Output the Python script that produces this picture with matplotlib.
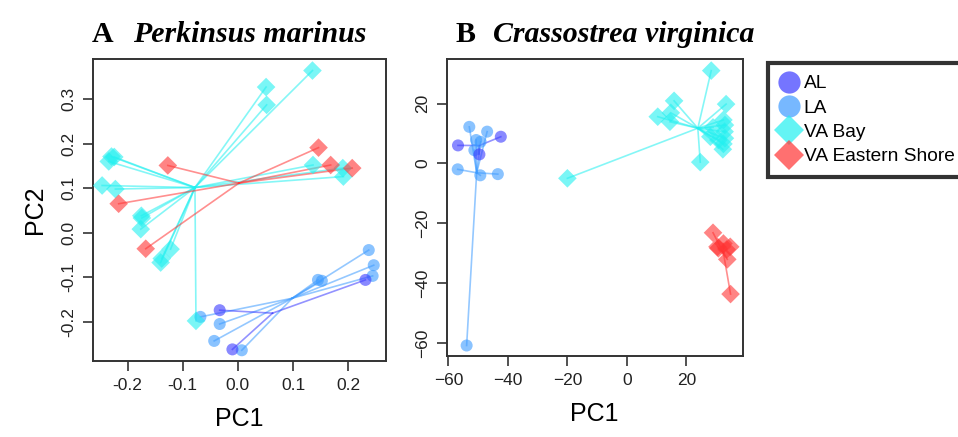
import matplotlib.pyplot as plt
from matplotlib.lines import Line2D
import numpy as np

# ---- data (PCA scores per group) ----
groups = ["AL", "LA", "VA Bay", "VA Eastern Shore"]

# Panel A: Perkinsus marinus
a_al_x = [-0.033, 0.231, -0.010]
a_al_y = [-0.174, -0.106, -0.262]
a_la_x = [0.237, 0.246, 0.244, 0.145, 0.152, -0.068, -0.033, -0.043, 0.007]
a_la_y = [-0.039, -0.073, -0.097, -0.106, -0.108, -0.189, -0.205, -0.243, -0.264]
a_vab_x = [0.135, 0.051, 0.052, -0.229, -0.224, -0.234, -0.246, -0.222, -0.175,
           -0.174, -0.176, -0.122, -0.138, -0.140, 0.136, 0.190, 0.191, -0.076]
a_vab_y = [0.364, 0.327, 0.287, 0.171, 0.170, 0.160, 0.106, 0.098, 0.038,
           0.033, 0.008, -0.037, -0.058, -0.067, 0.152, 0.145, 0.126, -0.198]
a_vaes_x = [0.146, -0.127, 0.168, 0.207, -0.216, -0.167]
a_vaes_y = [0.191, 0.151, 0.152, 0.145, 0.065, -0.036]

# Panel B: Crassostrea virginica
b_al_x = [-56.8, -42.4, -49.6]
b_al_y = [6.0, 8.9, 3.0]
b_la_x = [-53.0, -47.0, -50.7, -49.2, -51.3, -56.9, -49.3, -43.4, -53.9]
b_la_y = [12.2, 10.6, 7.8, 7.2, 4.4, -2.0, -4.0, -3.6, -60.9]
b_vab_x = [28.4, 15.9, 33.4, 14.8, 10.4, 14.5, 32.5, 33.0, 29.0, 32.9, 28.1,
           33.0, 30.8, 32.5, 32.3, 24.7, -20.0]
b_vab_y = [31.0, 20.9, 19.8, 16.9, 15.6, 13.9, 14.5, 12.8, 12.0, 10.6, 8.9,
           8.4, 7.8, 6.5, 4.7, 0.4, -5.0]
b_vaes_x = [29.0, 30.5, 32.5, 34.8, 30.8, 33.6, 33.8, 34.9]
b_vaes_y = [-23.2, -27.9, -26.8, -27.9, -28.4, -28.8, -32.1, -43.7]

colors = {"AL": "#3a3aff", "LA": "#3d9bff", "VA Bay": "#22f0f0",
          "VA Eastern Shore": "#ff3333"}
markers = {"AL": "o", "LA": "o", "VA Bay": "D", "VA Eastern Shore": "D"}

plt.rcParams['font.family'] = ['Liberation Sans', 'DejaVu Sans']

fig = plt.figure(figsize=(9.58, 4.37), dpi=100)
axA = fig.add_axes([0.0968, 0.174, 0.306, 0.691])
axB = fig.add_axes([0.4663, 0.1854, 0.309, 0.679])


def spider(ax, xs, ys, name):
    # lines from the group centroid to every sample, then the samples
    xs = np.asarray(xs)
    ys = np.asarray(ys)
    cx, cy = xs.mean(), ys.mean()
    for x, y in zip(xs, ys):
        ax.plot([cx, x], [cy, y], color=colors[name], alpha=0.55, lw=1.2,
                zorder=2)
    ax.scatter(xs, ys, s=75 if markers[name] == "o" else 90,
               marker=markers[name], color=colors[name], alpha=0.6,
               edgecolors="none", zorder=3)


def style(ax):
    for sp in ax.spines.values():
        sp.set_linewidth(1.4)
        sp.set_color("#333333")
    ax.tick_params(direction="out", length=7, width=1.2, labelsize=12.5,
                   color="#333333", labelcolor="#222222", pad=5)
    for lab in ax.get_yticklabels():
        lab.set_rotation(90)
        lab.set_va("center")
    ax.set_xlabel("PC1", fontsize=18, labelpad=10)


spider(axA, a_la_x, a_la_y, "LA")
spider(axA, a_al_x, a_al_y, "AL")
spider(axA, a_vab_x, a_vab_y, "VA Bay")
spider(axA, a_vaes_x, a_vaes_y, "VA Eastern Shore")
axA.set_xlim(-0.263, 0.268)
axA.set_ylim(-0.288, 0.39)
axA.set_xticks([-0.2, -0.1, 0.0, 0.1, 0.2])
axA.set_xticklabels(["-0.2", "-0.1", "0.0", "0.1", "0.2"])
axA.set_yticks([-0.2, -0.1, 0.0, 0.1, 0.2, 0.3])
axA.set_yticklabels(["-0.2", "-0.1", "0.0", "0.1", "0.2", "0.3"])
style(axA)
axA.set_ylabel("PC2", fontsize=18, labelpad=10)

spider(axB, b_la_x, b_la_y, "LA")
spider(axB, b_al_x, b_al_y, "AL")
spider(axB, b_vab_x, b_vab_y, "VA Bay")
spider(axB, b_vaes_x, b_vaes_y, "VA Eastern Shore")
axB.set_xlim(-60.6, 39.0)
axB.set_ylim(-64.4, 34.8)
axB.set_xticks([-60, -40, -20, 0, 20])
axB.set_yticks([-60, -40, -20, 0, 20])
style(axB)

# panel titles
ty = 1 - 42 / 437
fig.text(92 / 958, ty, "A", family="Liberation Serif", weight="bold",
         fontsize=21.5, va="baseline")
fig.text(133 / 958, ty, "Perkinsus marinus", family="Liberation Serif",
         weight="bold", style="italic", fontsize=21.5, va="baseline")
fig.text(455 / 958, ty, "B", family="Liberation Serif", weight="bold",
         fontsize=21.5, va="baseline")
fig.text(493 / 958, ty, "Crassostrea virginica", family="Liberation Serif",
         weight="bold", style="italic", fontsize=21.5, va="baseline")

handles = [Line2D([], [], ls="none", marker=markers[g], color=colors[g],
                  alpha=0.7, markersize=16 if markers[g] == "o" else 15,
                  markeredgewidth=0)
           for g in groups]
leg = fig.legend(handles, groups, loc="upper left",
                 bbox_to_anchor=(768 / 958, 1 - 63 / 437), fontsize=13.8,
                 frameon=True, fancybox=False, handlelength=0.9,
                 handletextpad=0.35, labelspacing=0.36, borderpad=0.62,
                 borderaxespad=0)
leg.get_frame().set_edgecolor("black")
leg.get_frame().set_linewidth(3)

fig.savefig("out.png", dpi=100)
